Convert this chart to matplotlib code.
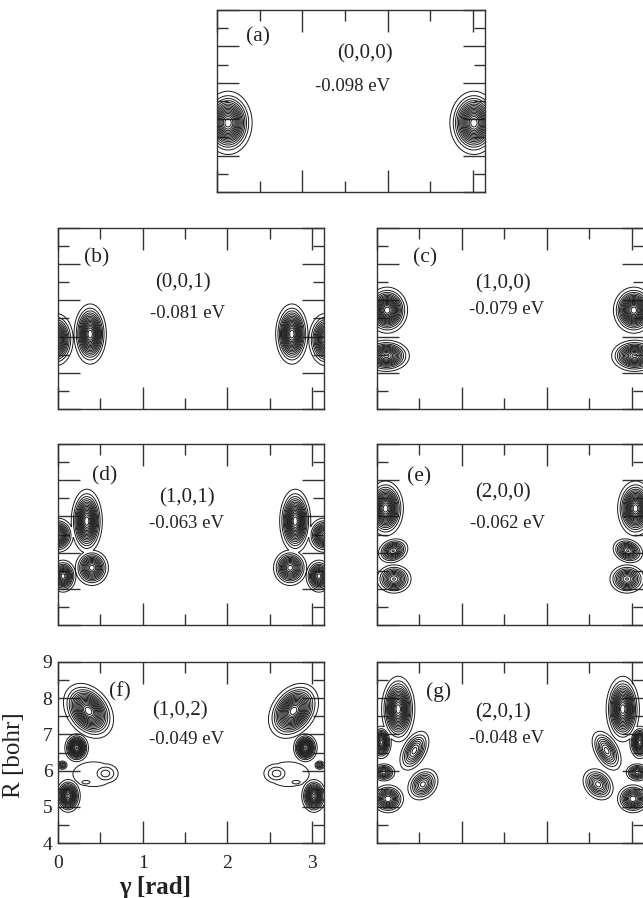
"""
Vibrational wave functions of the complex, contour maps in Jacobi
coordinates (gamma, R).  Each state drawn from a handful of lobes,
mirrored about gamma = pi/2.
"""

import numpy as np
import matplotlib.pyplot as plt
from matplotlib.ticker import MultipleLocator

plt.rcParams['font.family'] = ['Liberation Serif', 'DejaVu Serif']

# panel tags, quantum numbers and energies
tags = ['(a)', '(b)', '(c)', '(d)', '(e)', '(f)', '(g)']
states = ['(0,0,0)', '(0,0,1)', '(1,0,0)', '(1,0,1)', '(2,0,0)', '(1,0,2)', '(2,0,1)']
energies = [-0.098, -0.081, -0.079, -0.063, -0.062, -0.049, -0.048]

# lobes on the gamma < pi/2 side:
# (gamma, R, width_gamma, width_R, amplitude, shear)
lobes_a = [(0.13, 5.90, 0.115, 0.355, 1.00, 0.0)]
lobes_b = [(0.38, 6.07, 0.078, 0.34, 1.00, 0.0),
           (-0.02, 5.92, 0.083, 0.30, 0.90, 0.0)]
lobes_c = [(0.12, 6.73, 0.098, 0.26, 1.00, 0.0),
           (0.11, 5.47, 0.115, 0.183, 0.80, 0.0)]
lobes_d = [(0.34, 6.87, 0.075, 0.36, 1.00, 0.0),
           (0.00, 6.48, 0.077, 0.20, 0.80, 0.0),
           (0.40, 5.58, 0.084, 0.21, 0.75, 0.0),
           (0.06, 5.35, 0.065, 0.19, 0.75, 0.0)]
lobes_e = [(0.10, 7.22, 0.086, 0.31, 1.00, 0.0),
           (0.19, 6.05, 0.076, 0.148, 0.60, -0.1),
           (0.20, 5.27, 0.090, 0.175, 0.60, 0.0)]
lobes_f = [(0.36, 7.65, 0.115, 0.31, 1.00, 0.12),
           (0.22, 6.63, 0.058, 0.16, 0.90, 0.0),
           (0.05, 6.15, 0.030, 0.06, 0.30, 0.0),
           (0.12, 5.30, 0.060, 0.19, 0.85, 0.0),
           (0.56, 5.92, 0.090, 0.16, 0.20, 0.0),
           (0.33, 5.68, 0.060, 0.06, 0.15, 0.0),
           (0.42, 5.90, 0.200, 0.28, 0.105, 0.0)]
lobes_g = [(0.25, 7.70, 0.080, 0.37, 1.00, 0.0),
           (0.05, 6.78, 0.050, 0.19, 0.80, 0.0),
           (0.44, 6.55, 0.070, 0.25, 0.50, -0.15),
           (0.08, 5.95, 0.060, 0.11, 0.50, 0.0),
           (0.54, 5.62, 0.080, 0.20, 0.50, -0.1),
           (0.13, 5.22, 0.080, 0.17, 0.65, 0.0)]
panel_lobes = [lobes_a, lobes_b, lobes_c, lobes_d, lobes_e, lobes_f, lobes_g]

# text positions (axes fraction): tag, state, energy
tag_xy = [(0.153, 0.852), (0.147, 0.834), (0.180, 0.834), (0.176, 0.825),
          (0.157, 0.820), (0.232, 0.833), (0.230, 0.833)]
state_xy = [(0.552, 0.758), (0.468, 0.696), (0.472, 0.690), (0.483, 0.700),
            (0.472, 0.730), (0.457, 0.730), (0.472, 0.720)]
energy_xy = [(0.504, 0.582), (0.487, 0.530), (0.487, 0.552), (0.483, 0.560),
             (0.487, 0.560), (0.483, 0.570), (0.487, 0.580)]

# axes boxes in pixels: left, right, top, bottom
W, H = 643, 898
boxes = [(217, 485, 10, 192),
         (58, 324, 228, 409), (377, 644, 228, 409),
         (58, 324, 444, 625), (377, 644, 444, 625),
         (58, 324, 662, 843), (377, 644, 662, 843)]

g = np.linspace(0, np.pi, 700)
r = np.linspace(4, 9, 600)
G, R = np.meshgrid(g, r)
levels = np.arange(0.05, 1.0, 0.06)


def density(lobes):
    f = np.zeros_like(G)
    for g0, r0, sg, sr, amp, k in lobes:
        for gc, kk in ((g0, k), (np.pi - g0, -k)):
            dy = R - r0
            dx = G - (gc - kk * dy)
            d2 = (dx / sg) ** 2 + (dy / sr) ** 2
            f = np.maximum(f, amp * np.exp(-0.5 * d2))
    return f


fig = plt.figure(figsize=(W / 100, H / 100), dpi=100)

for i, (x0, x1, y0, y1) in enumerate(boxes):
    ax = fig.add_axes([x0 / W, 1 - y1 / H, (x1 - x0) / W, (y1 - y0) / H])
    ax.contour(G, R, density(panel_lobes[i]), levels=levels,
               colors='#1a1a1a', linewidths=0.7)
    ax.set_xlim(0, np.pi)
    ax.set_ylim(4, 9)
    ax.xaxis.set_major_locator(MultipleLocator(1))
    ax.xaxis.set_minor_locator(MultipleLocator(0.5))
    ax.yaxis.set_major_locator(MultipleLocator(1))
    ax.yaxis.set_minor_locator(MultipleLocator(0.5))
    ax.tick_params(which='both', direction='in', top=True, right=True,
                   width=1, colors='#333333', labelcolor='#222222',
                   labelsize=14)
    ax.tick_params(which='major', length=16)
    ax.tick_params(which='minor', length=8)
    ax.tick_params(axis='x', pad=9)
    ax.tick_params(axis='y', pad=4)
    for s in ax.spines.values():
        s.set_linewidth(1)
        s.set_color('#333333')

    ax.text(*tag_xy[i], tags[i], transform=ax.transAxes, ha='center',
            va='center', fontsize=15.5, color='#222222')
    ax.text(*state_xy[i], states[i], transform=ax.transAxes, ha='center',
            va='center', fontsize=15, color='#222222')
    ax.text(*energy_xy[i], '%.3f eV' % energies[i], transform=ax.transAxes,
            ha='center', va='center', fontsize=13.5, color='#222222')

    if tags[i] == '(f)':
        ax.set_xlabel('\u03b3 [rad]', fontsize=18, fontweight='bold',
                      color='#222222')
        ax.set_ylabel('R [bohr]', fontsize=18, color='#222222')
        ax.xaxis.set_label_coords(0.365, -0.18)
        ax.yaxis.set_label_coords(-0.125, 0.486)
    else:
        ax.set_xticklabels([])
        ax.set_yticklabels([])

fig.savefig('out.png', dpi=100)
